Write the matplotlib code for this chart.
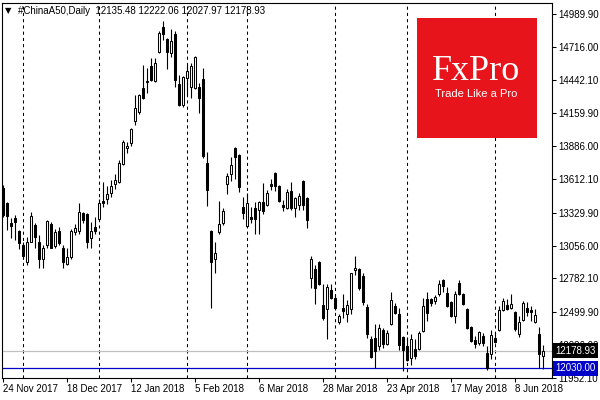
import matplotlib
matplotlib.use('Agg')
import matplotlib.pyplot as plt
from matplotlib.patches import Rectangle
import numpy as np

# daily candles of #ChinaA50, 24 Nov 2017 .. 19 Jun 2018
opens = [13534, 13409, 13241, 13283, 13174, 13065, 12915, 13090, 13224, 13090,
         12940, 13057, 13233, 13049, 13174, 13040, 12906, 12957, 13166, 13174,
         13325, 13316, 13116, 13208, 13275, 13425, 13442, 13492, 13568, 13584,
         13735, 13869, 13911, 14095, 14170, 14371, 14430, 14555, 14430, 14672,
         14882, 14781, 14664, 14823, 14405, 14229, 14455, 14379, 14371, 14379,
         14446, 13743, 13174, 12940, 13166, 13241, 13568, 13651, 13869, 13810,
         13375, 13216, 13291, 13367, 13350, 13417, 13392, 13568, 13660, 13551,
         13392, 13367, 13509, 13367, 13392, 13593, 13450, 12789, 12864, 12923,
         12563, 12530, 12689, 12622, 12421, 12538, 12488, 12530, 12856, 12864,
         12806, 12546, 12279, 12287, 12220, 12354, 12237, 12404, 12555, 12488,
         12295, 12220, 12120, 12195, 12195, 12346, 12613, 12613, 12597, 12655,
         12772, 12664, 12588, 12471, 12747, 12655, 12530, 12379, 12270, 12245,
         12304, 12161, 12153, 12287, 12354, 12521, 12563, 12538, 12505, 12320,
         12438, 12538, 12521, 12421, 12320, 12135.48]
highs = [13559, 13417, 13283, 13308, 13183, 13082, 13124, 13333, 13241, 13141,
         13057, 13266, 13250, 13191, 13208, 13057, 13040, 13191, 13233, 13409,
         13333, 13325, 13250, 13291, 13442, 13584, 13551, 13601, 13651, 13768,
         13936, 13919, 14036, 14312, 14321, 14564, 14538, 14622, 14622, 14848,
         14932, 14790, 14865, 14848, 14480, 14472, 14564, 14580, 14639, 14413,
         14538, 13835, 13183, 13082, 13425, 13367, 13660, 13794, 13877, 13819,
         13459, 13492, 13375, 13417, 13425, 13576, 13517, 13609, 13668, 13559,
         13434, 13526, 13584, 13459, 13492, 13601, 13459, 12965, 12890, 12931,
         12739, 12739, 12739, 12655, 12488, 12655, 12605, 12831, 12973, 12873,
         12823, 12572, 12304, 12404, 12404, 12371, 12354, 12672, 12580, 12538,
         12304, 12295, 12320, 12279, 12346, 12622, 12672, 12622, 12647, 12772,
         12781, 12714, 12597, 12680, 12772, 12664, 12538, 12387, 12304, 12346,
         12329, 12220, 12354, 12337, 12555, 12622, 12613, 12655, 12513, 12471,
         12597, 12588, 12555, 12530, 12379, 12222.06]
lows = [13291, 13183, 13116, 13099, 13024, 12948, 12898, 13082, 13040, 12873,
        12873, 13040, 13032, 13040, 13057, 12873, 12898, 12948, 13141, 13149,
        13241, 13040, 13032, 13157, 13266, 13375, 13400, 13459, 13526, 13576,
        13727, 13827, 13886, 14061, 14153, 14279, 14329, 14430, 14421, 14664,
        14773, 14530, 14631, 14379, 14220, 14212, 14312, 14287, 14363, 14162,
        13785, 13383, 12538, 12831, 13157, 13224, 13484, 13593, 13609, 13501,
        13275, 13208, 13241, 13157, 13157, 13316, 13383, 13517, 13509, 13417,
        13342, 13358, 13350, 13291, 13350, 13350, 13199, 12705, 12572, 12731,
        12438, 12279, 12613, 12521, 12404, 12454, 12421, 12488, 12814, 12689,
        12563, 12287, 12120, 12036, 12187, 12203, 12228, 12396, 12488, 12187,
        12011, 12094, 12061, 12111, 12187, 12337, 12429, 12555, 12572, 12638,
        12672, 12546, 12463, 12413, 12647, 12563, 12362, 12253, 12203, 12228,
        12220, 12019, 12111, 12245, 12346, 12513, 12521, 12530, 12346, 12295,
        12429, 12471, 12429, 12413, 12036, 12027.97]
closes = [13308, 13300, 13216, 13249, 13074, 12965, 13090, 13300, 13124, 12940,
          13040, 13258, 13040, 13166, 13074, 12915, 12957, 13174, 13199, 13333,
          13266, 13082, 13174, 13174, 13409, 13409, 13484, 13551, 13601, 13743,
          13919, 13886, 14028, 14204, 14312, 14287, 14421, 14438, 14580, 14831,
          14823, 14672, 14764, 14438, 14229, 14463, 14513, 14555, 14631, 14287,
          13802, 13517, 12923, 12990, 13233, 13342, 13635, 13727, 13794, 13542,
          13325, 13409, 13275, 13275, 13417, 13342, 13492, 13551, 13551, 13425,
          13375, 13501, 13367, 13450, 13467, 13392, 13266, 12940, 12705, 12739,
          12454, 12714, 12622, 12538, 12471, 12513, 12563, 12823, 12873, 12705,
          12588, 12320, 12128, 12178, 12371, 12237, 12329, 12605, 12496, 12228,
          12187, 12103, 12279, 12136, 12329, 12555, 12496, 12580, 12630, 12739,
          12722, 12555, 12471, 12655, 12655, 12572, 12371, 12262, 12237, 12337,
          12245, 12036, 12312, 12253, 12521, 12597, 12530, 12572, 12362, 12421,
          12580, 12505, 12505, 12479, 12153, 12178.93]

date_labels = ['24 Nov 2017', '18 Dec 2017', '12 Jan 2018', '5 Feb 2018',
               '6 Mar 2018', '28 Mar 2018', '23 Apr 2018', '17 May 2018',
               '8 Jun 2018']
month_start_bars = [5, 24, 46, 61, 83, 101, 123]
price_ticks = [14989.90, 14716.00, 14442.10, 14159.90, 13886.00, 13612.10,
               13329.90, 13056.00, 12782.10, 12499.90, 12226.00, 11952.10]
user_level = 12030.00

o = np.array(opens, dtype=float)
h = np.array(highs, dtype=float)
l = np.array(lows, dtype=float)
c = np.array(closes, dtype=float)
x = np.arange(len(o))
up = c >= o

fig = plt.figure(figsize=(6, 4), dpi=100)
ax = fig.add_axes([2 / 600, 1 - 378 / 400, 550 / 600, 375 / 400])
ax.set_xlim(-0.25, 137.25)
ax.set_ylim(11950, 15082.5)

for b in month_start_bars:
    ax.axvline(b, color='black', lw=0.75, ls=(0, (3, 3)), zorder=1)

ax.axhline(c[-1], color='#c0c0c0', lw=0.9, zorder=1.5)
ax.axhline(user_level, color='#0000c8', lw=0.9, zorder=1.5)

ax.vlines(x, l, h, color='black', lw=0.8, zorder=3)
ax.bar(x[up], (c - o)[up], bottom=o[up], width=0.62, facecolor='white',
       edgecolor='black', lw=0.75, zorder=4)
ax.bar(x[~up], (o - c)[~up], bottom=c[~up], width=0.62, facecolor='black',
       edgecolor='black', lw=0.75, zorder=4)

for s in ax.spines.values():
    s.set_linewidth(0.8)

ax.yaxis.tick_right()
ax.set_yticks(price_ticks)
ax.set_yticklabels([f'{p:.2f}' for p in price_ticks])
ax.set_xticks(range(0, 16 * len(date_labels), 16))
ax.set_xticklabels(date_labels, ha='left')
ax.tick_params(axis='both', direction='out', length=3, width=0.75,
               labelsize=7, pad=1.5)
for t in ax.get_xticklabels() + ax.get_yticklabels():
    t.set_family('Liberation Sans')

# price boxes on the right scale (they cover part of the 12226.00 label, as in MT4)
tr = ax.get_yaxis_transform()
ax.text(1.006, c[-1], f'{c[-1]:.2f}', transform=tr, ha='left', va='center',
        color='white', fontsize=7, family='Liberation Sans', zorder=10,
        bbox=dict(facecolor='black', edgecolor='none', pad=1.6), clip_on=False)
ax.text(1.006, user_level, f'{user_level:.2f}', transform=tr, ha='left',
        va='center', color='white', fontsize=7, family='Liberation Sans',
        zorder=10, bbox=dict(facecolor='#0000c8', edgecolor='none', pad=1.6),
        clip_on=False)

# chart header
fig.text(5 / 600, 1 - 11 / 400, '\u25bc', fontsize=6, va='center',
         family='DejaVu Sans')
fig.text(18 / 600, 1 - 11 / 400,
         f'#ChinaA50,Daily  {o[-1]:.2f} {h[-1]:.2f} {l[-1]:.2f} {c[-1]:.2f}',
         fontsize=7, va='center', family='Liberation Sans')

# FxPro logo
fig.add_artist(Rectangle((417 / 600, 1 - 138 / 400), 120 / 600, 120 / 400,
                         transform=fig.transFigure, facecolor='#e8141c',
                         edgecolor='none', zorder=5))
fig.text(476 / 600, 1 - 71 / 400, 'FxPro', ha='center', va='center',
         fontsize=26, color='white', family='Liberation Serif', zorder=6)
fig.text(476 / 600, 1 - 94 / 400, 'Trade Like a Pro', ha='center',
         va='center', fontsize=8, color='white', family='Liberation Sans',
         zorder=6)

fig.savefig('out.png', dpi=100)
